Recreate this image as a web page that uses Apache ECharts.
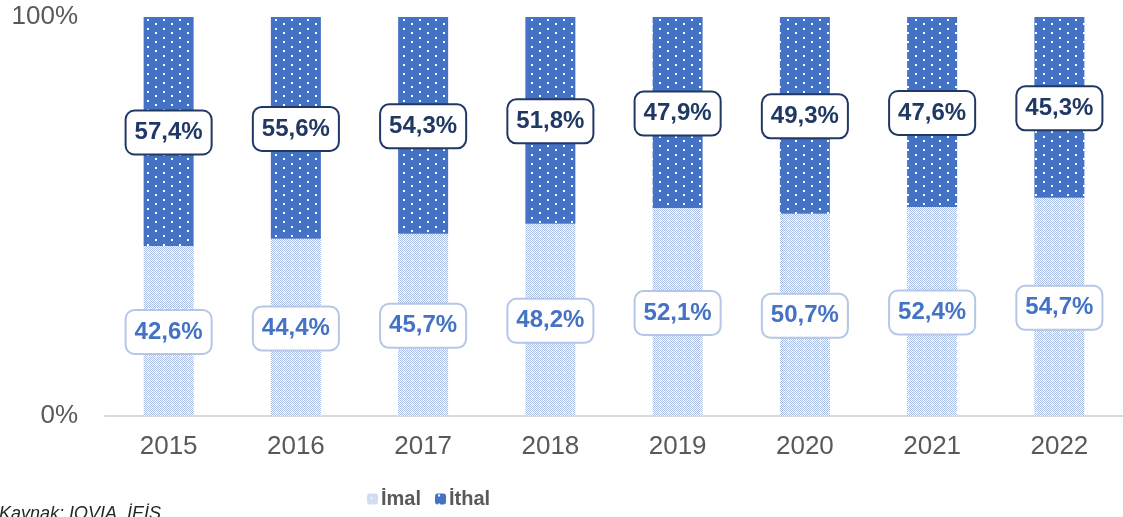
<!DOCTYPE html>
<html>
<head>
<meta charset="utf-8">
<script src="https://cdn.jsdelivr.net/npm/echarts@6/dist/echarts.min.js"></script>
<style>
  html, body { margin: 0; padding: 0; background: #fff; overflow: hidden; }
  #chart { width: 1123px; height: 517px; }
</style>
</head>
<body>
<div id="chart"></div>
<script>
// data
const years = ["2015", "2016", "2017", "2018", "2019", "2020", "2021", "2022"];
const imal = [42.6, 44.4, 45.7, 48.2, 52.1, 50.7, 52.4, 54.7];
const ithal = [57.4, 55.6, 54.3, 51.8, 47.9, 49.3, 47.6, 45.3];
const yTicks = [0, 100];

// patterns
function makeIthalPattern(){
  const c = document.createElement("canvas");
  c.width = 16; c.height = 9;
  const ctx = c.getContext("2d");
  ctx.fillStyle = "#4472C4";
  ctx.fillRect(0, 0, 16, 9);
  ctx.fillStyle = "#ffffff";
  ctx.fillRect(3, 1, 2, 2);
  ctx.fillRect(11, 5, 2, 2);
  return c;
}
function makeImalPattern(){
  const c = document.createElement("canvas");
  c.width = 8; c.height = 8;
  const ctx = c.getContext("2d");
  ctx.fillStyle = "#ffffff";
  ctx.fillRect(0, 0, 8, 8);
  ctx.fillStyle = "#A6BCE6";
  for(let y = 0; y < 8; y++){
    for(let x = 0; x < 8; x++){
      if((x + y) % 2 === 0){
        ctx.fillRect(x, y, 1, 1);
      }
    }
  }
  // sparse white dot
  ctx.fillStyle = "#ffffff";
  ctx.fillRect(4, 4, 1, 1);
  ctx.fillRect(4, 3, 1, 1);
  return c;
}

const fmt = (p) => p.value.toFixed(1).replace(".", ",") + "%";

const chart = echarts.init(document.getElementById("chart"));
chart.setOption({
  animation: false,
  grid: { left: 105, right: -6, top: 17, bottom: 101 },
  legend: {
    left: 362,
    top: 484,
    itemWidth: 11,
    itemHeight: 11,
    itemGap: 14,
    textStyle: { fontFamily: "Liberation Sans", fontSize: 20, fontWeight: "bold", color: "#595959", padding: [0, 0, 0, -2] },
    data: ["İmal", "İthal"]
  },
  xAxis: {
    type: "category",
    data: years,
    axisLine: { lineStyle: { color: "#D9D9D9", width: 2 } },
    axisTick: { show: false },
    axisLabel: { fontFamily: "Liberation Sans", fontSize: 26, color: "#595959", margin: 18 }
  },
  yAxis: {
    type: "value",
    min: yTicks[0],
    max: yTicks[1],
    interval: 100,
    splitLine: { show: false },
    axisLabel: { fontFamily: "Liberation Sans", fontSize: 26, color: "#595959", margin: 27, formatter: "{value}%" }
  },
  graphic: [{
    type: "text",
    left: -1,
    top: 505,
    style: { text: "Kaynak: IQVIA, İEİS", font: "italic 18px 'Liberation Sans'", fill: "#262626" }
  }],
  series: [
    {
      name: "İmal",
      type: "bar",
      stack: "t",
      barWidth: 50,
      data: imal,
      itemStyle: { color: { image: makeImalPattern(), repeat: "repeat" } },
      label: {
        show: true, position: "inside", formatter: fmt, offset: [0, 1],
        fontFamily: "Liberation Sans", fontSize: 24, fontWeight: "bold", color: "#4472C4", lineHeight: 28,
        backgroundColor: "#ffffff", borderColor: "#B4C7E7", borderWidth: 2, borderRadius: 8,
        padding: [7, 8, 7, 8]
      }
    },
    {
      name: "İthal",
      type: "bar",
      stack: "t",
      barWidth: 50,
      data: ithal,
      itemStyle: { color: { image: makeIthalPattern(), repeat: "repeat" } },
      label: {
        show: true, position: "inside", formatter: fmt, offset: [0, 1],
        fontFamily: "Liberation Sans", fontSize: 24, fontWeight: "bold", color: "#203864", lineHeight: 28,
        backgroundColor: "#ffffff", borderColor: "#203864", borderWidth: 2, borderRadius: 8,
        padding: [7, 8, 7, 8]
      }
    }
  ]
});
</script>
</body>
</html>
